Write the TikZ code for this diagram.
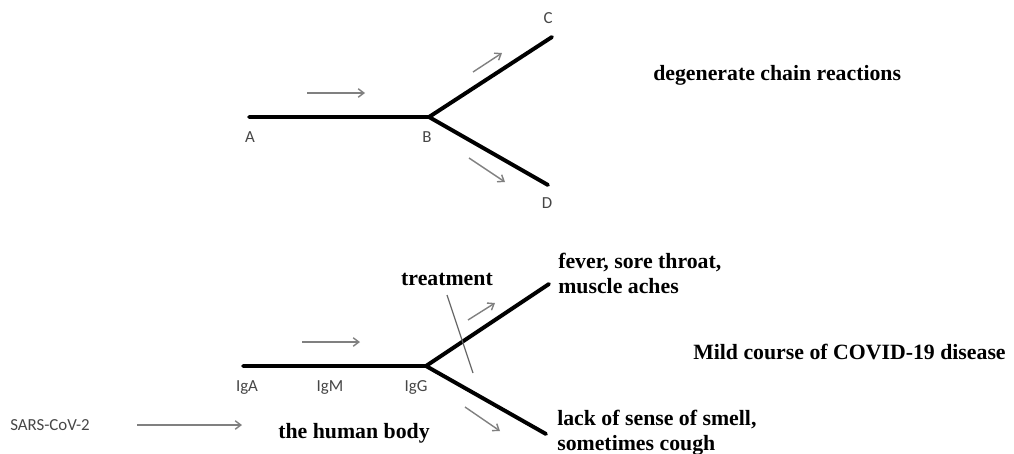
\documentclass[tikz,border=0pt]{standalone}
\usepackage{fontspec}
\setmainfont{Liberation Serif}
\newfontfamily\lblfont{Carlito}
\usetikzlibrary{arrows.meta, positioning}
\definecolor{flowgray}{RGB}{128, 128, 128}
\definecolor{labelgray}{RGB}{70, 70, 70}
\definecolor{cutgray}{RGB}{100, 100, 100}

\begin{document}
\begin{tikzpicture}[
    x=0.025cm, y=-0.025cm,
    chain/.style={line width=2.8pt, line cap=round, black},
    flow/.style={-{Straight Barb[length=4pt, width=6pt]}, line width=1pt, flowgray},
    pt/.style={font=\lblfont\fontsize{12}{14}\selectfont, text=labelgray, inner sep=0pt},
    txt/.style={font=\bfseries\fontsize{15.5}{17.5}\selectfont, align=left, inner sep=0pt}
]
  \useasboundingbox (0,0) rectangle (1014,454);

  % degenerate chain
  \coordinate (A) at (249,117);
  \coordinate (B) at (429,117);
  \coordinate (C) at (552,37);
  \coordinate (D) at (548,185);
  \draw[chain] (A) -- (B) -- (C);
  \draw[chain] (B) -- (D);

  \node[pt] (lblA) at (250,137) {A};
  \node[pt] (lblB) at (427,137) {B};
  \node[pt] (lblC) at (548,18) {C};
  \node[pt] (lblD) at (547,203) {D};

  \coordinate (ab1) at (307,93);  \coordinate (ab2) at (365,93);
  \coordinate (bc1) at (473,72);  \coordinate (bc2) at (502,53);
  \coordinate (bd1) at (469,158); \coordinate (bd2) at (505,182);
  \draw[flow] (ab1) -- (ab2);
  \draw[flow] (bc1) -- (bc2);
  \draw[flow] (bd1) -- (bd2);

  \node[txt, anchor=base west] (degen) at (653,80) {degenerate chain reactions};

  % immune response
  \coordinate (IgA) at (243,366);
  \coordinate (IgG) at (426,366);
  \coordinate (up) at (549,284);
  \coordinate (low) at (546,434);
  \draw[chain] (IgA) -- (IgG) -- (up);
  \draw[chain] (IgG) -- (low);

  \node[pt] (lblIgA) at (247,388) {IgA};
  \node[pt] (lblIgM) at (330,388) {IgM};
  \node[pt] (lblIgG) at (416,387) {IgG};

  \coordinate (am1) at (302,342); \coordinate (am2) at (360,342);
  \coordinate (gu1) at (468,320); \coordinate (gu2) at (495,303);
  \coordinate (gl1) at (465,407); \coordinate (gl2) at (500,431);
  \draw[flow] (am1) -- (am2);
  \draw[flow] (gu1) -- (gu2);
  \draw[flow] (gl1) -- (gl2);

  % treatment cut
  \coordinate (cut1) at (447,295);
  \coordinate (cut2) at (473,373);
  \draw[cutgray, line width=0.8pt] (cut1) -- (cut2);
  \node[txt, anchor=base] (treat) at (447,285) {treatment};

  % virus enters
  \node[pt, anchor=base west, font=\lblfont\fontsize{12}{14}\selectfont] (virus) at (10,430) {SARS-CoV-2};
  \coordinate (sv1) at (137,425);
  \coordinate (sv2) at (242,425);
  \draw[flow] (sv1) -- (sv2);
  \node[txt, anchor=base west] (body) at (278,438) {the human body};

  % outcomes
  \node[txt, anchor=north west] (sympt1) at (558,253) {fever, sore throat,\\muscle aches};
  \node[txt, anchor=north west] (sympt2) at (557,410) {lack of sense of smell,\\sometimes cough};
  \node[txt, anchor=base west] (mild) at (693,359) {Mild course of COVID-19 disease};
\end{tikzpicture}
\end{document}
